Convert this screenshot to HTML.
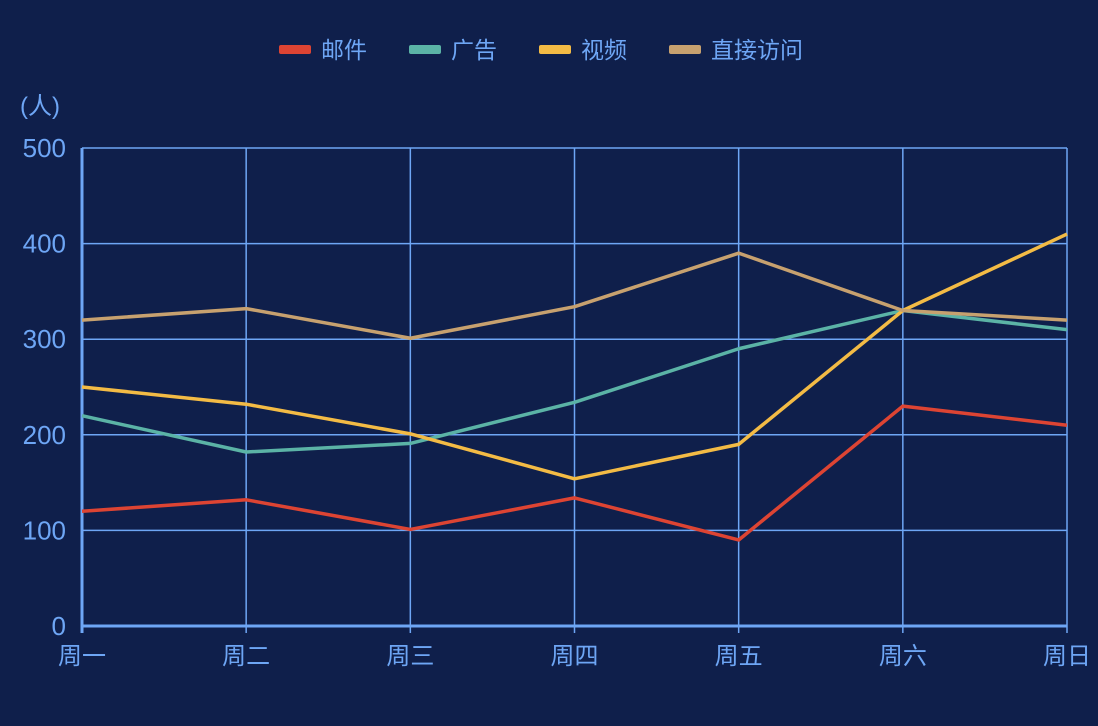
<!DOCTYPE html>
<html><head><meta charset="utf-8"><style>
html,body{margin:0;padding:0;background:#0f1f4b;overflow:hidden;}
svg{display:block;}
svg text{font-family:"Liberation Sans","Noto Sans CJK SC",sans-serif;}
</style></head><body>
<svg id="chart" width="1098" height="726" xmlns="http://www.w3.org/2000/svg">
<rect width="1098" height="726" fill="#0f1f4b"/>
<g id="grid"></g><g id="axes"></g><g id="series"></g><g id="legend"></g>
</svg>
<script>
const categories=['周一','周二','周三','周四','周五','周六','周日'];
const seriesNames=['邮件','广告','视频','直接访问'];
const mail=[120,132,101,134,90,230,210];
const ads=[220,182,191,234,290,330,310];
const video=[250,232,201,154,190,330,410];
const direct=[320,332,301,334,390,330,320];
const yTicks=[0,100,200,300,400,500];
const colors=['#dd4433','#5bb3a6','#f3bb45','#c7a16f'];
const allSeries=[mail,ads,video,direct];
const NS='http://www.w3.org/2000/svg';
const X0=82,X1=1067,Y0=626,Y1=148,YMAX=500;
const xs=i=>X0+(X1-X0)*i/(categories.length-1);
const ys=v=>Y0-(Y0-Y1)*v/YMAX;
const axisColor='#6ea6f5';
function mk(tag,attrs,parent){const e=document.createElementNS(NS,tag);for(const k in attrs)e.setAttribute(k,attrs[k]);parent.appendChild(e);return e;}
const grid=document.getElementById('grid'),axes=document.getElementById('axes'),ser=document.getElementById('series'),leg=document.getElementById('legend');
yTicks.forEach(t=>{
 const l=mk('line',{x1:X0,x2:X1,y1:ys(t),y2:ys(t),stroke:axisColor,'stroke-width':t===0?3:1.5},grid);
 
 
 const tx=mk('text',{x:66,y:ys(t)+9,'text-anchor':'end','font-size':26,fill:axisColor},axes);
 tx.textContent=t;
 
 
});
categories.forEach((c,i)=>{
 const l=mk('line',{x1:xs(i),x2:xs(i),y1:Y1,y2:Y0+7,stroke:axisColor,'stroke-width':i===0?3:1.5},grid);
 
 
 const tx=mk('text',{x:xs(i),y:664,'text-anchor':'middle','font-size':24,fill:axisColor},axes);
 tx.textContent=c;
 
 
});
const unit=mk('text',{x:20,y:114,'font-size':24,fill:axisColor},axes);
unit.textContent='(人)';


allSeries.forEach((d,s)=>{
 const p=mk('polyline',{points:d.map((v,i)=>xs(i)+','+ys(v)).join(' '),fill:'none',stroke:colors[s],'stroke-width':3.5,'stroke-linejoin':'round'},ser);
 
 
});
const legX=[279,409,539,669];
seriesNames.forEach((n,s)=>{
 const g=mk('g',{},leg);
 
 
 mk('rect',{x:legX[s],y:45,width:32,height:9,rx:2,fill:colors[s]},g);
 const t=mk('text',{x:legX[s]+42,y:58,'font-size':23,fill:axisColor},g);
 t.textContent=n;
});
</script>
</body></html>
